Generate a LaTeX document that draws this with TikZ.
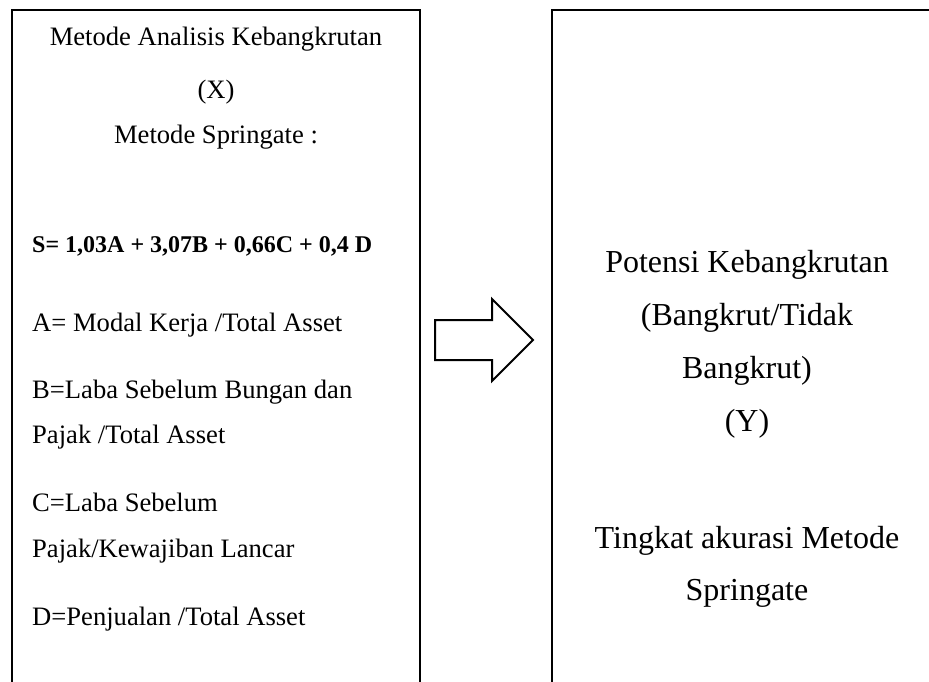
\documentclass[tikz,border=0pt]{standalone}
\usepackage{fontspec}
\setmainfont{Liberation Serif}
\begin{document}
\begin{tikzpicture}[x=1pt,y=-1pt,
  frame/.style={line width=2pt, line join=miter},
  blockarrow/.style={line width=2pt, line join=miter},
  lefttxt/.style={anchor=base west, inner sep=0pt, font=\fontsize{26.6}{30}\selectfont},
  ctrtxt/.style={anchor=base, inner sep=0pt, font=\fontsize{26.6}{30}\selectfont},
  boldtxt/.style={anchor=base west, inner sep=0pt, font=\fontsize{24}{28}\selectfont\bfseries},
  righttxt/.style={anchor=base, inner sep=0pt, font=\fontsize{32}{36}\selectfont}]
\useasboundingbox (0,0) rectangle (929,681);
\clip (0,0) rectangle (929,681);

% left frame (open at the bottom of the page)
\draw[frame] (12,700) -- (12,10) -- (420,10) -- (420,700);
% right frame
\draw[frame] (552,700) -- (552,10) -- (945,10);

% block arrow between the frames
\draw[blockarrow] (435,320) -- (492,320) -- (492,299) -- (533,340)
  -- (492,381) -- (492,360) -- (435,360) -- cycle;

% independent variable
\node[ctrtxt] (x1) at (216,45) {Metode Analisis Kebangkrutan};
\node[ctrtxt] (x2) at (216,98) {(X)};
\node[ctrtxt] (x3) at (216,143) {Metode Springate :};
\node[boldtxt] (f) at (32,252) {S= 1,03A + 3,07B + 0,66C + 0,4 D};
\node[lefttxt] (a) at (32,331) {A= Modal Kerja /Total Asset};
\node[lefttxt] (b1) at (32,398) {B=Laba Sebelum Bungan dan};
\node[lefttxt] (b2) at (32,443) {Pajak /Total Asset};
\node[lefttxt] (c1) at (32,511) {C=Laba Sebelum};
\node[lefttxt] (c2) at (32,557) {Pajak/Kewajiban Lancar};
\node[lefttxt] (d) at (32,625) {D=Penjualan /Total Asset};

% dependent variable
\node[righttxt] (y1) at (747,272) {Potensi Kebangkrutan};
\node[righttxt] (y2) at (747,325) {(Bangkrut/Tidak};
\node[righttxt] (y3) at (747,378) {Bangkrut)};
\node[righttxt] (y4) at (747,431) {(Y)};
\node[righttxt] (y5) at (747,548) {Tingkat akurasi Metode};
\node[righttxt] (y6) at (747,600) {Springate};
\end{tikzpicture}
\end{document}
